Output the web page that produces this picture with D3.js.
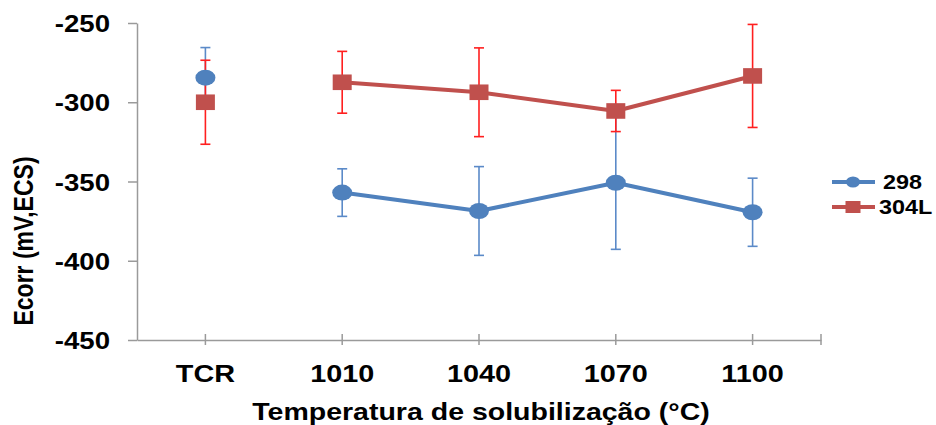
<!DOCTYPE html>
<html>
<head>
<meta charset="utf-8">
<script src="https://cdn.jsdelivr.net/npm/d3@7"></script>
<style>
  body { margin: 0; background: #fff; }
  text { font-family: "Liberation Sans", Arial, sans-serif; font-weight: bold; fill: #000; }
</style>
</head>
<body>
<div id="chart"></div>
<script>
var categories = ["TCR", "1010", "1040", "1070", "1100"];
var yTicks = [-450, -400, -350, -300, -250];

// série 298
var s298 = [-284.5, -357, -368.6, -350.8, -369.4];
var e298 = [19, 15, 28, 42, 21.5];
// série 304L
var s304 = [-300, -287.4, -293.7, -305.5, -283.4];
var e304 = [26.5, 19.5, 28, 13, 32.5];

var width = 936, height = 425;
var stretch = 1.2; // texto do original aparece alargado

var svg = d3.select("#chart").append("svg")
    .attr("width", width)
    .attr("height", height);

var x = d3.scaleBand().domain(categories).range([137, 821]).padding(0),
    y = d3.scaleLinear().domain([-450, -250]).range([340, 23]);

function cx(c) { return x(c) + x.bandwidth() / 2; }

var series = [
  { name: "298", vals: s298, errs: e298, color: "#4F81BD", errColor: "#5B8AC8", shape: "circle" },
  { name: "304L", vals: s304, errs: e304, color: "#C0504D", errColor: "#FF1F1F", shape: "square" }
];
series.forEach(function(s) {
  s.data = categories.map(function(c, i) { return { cat: c, v: s.vals[i], e: s.errs[i] }; });
});

// eixo y
var gy = svg.append("g")
    .attr("transform", "translate(137,0)")
    .call(d3.axisLeft(y).tickValues(yTicks).tickSizeInner(9).tickSizeOuter(0).tickFormat(d3.format("d")));
gy.select(".domain").attr("stroke", "#9a9a9a").attr("stroke-width", 1.5);
gy.selectAll(".tick line").attr("stroke", "#9a9a9a").attr("stroke-width", 1.5);
gy.selectAll(".tick text")
    .attr("x", null).attr("dy", null)
    .attr("text-anchor", "end")
    .attr("transform", "translate(-27,8.5) scale(" + stretch + ",1)")
    .style("font-size", "23px")
    .text(function(d) { return d; });

// eixo x
var gx = svg.append("g")
    .attr("transform", "translate(0,340)")
    .call(d3.axisBottom(x).tickSizeOuter(0));
gx.select(".domain").attr("stroke", "#9a9a9a").attr("stroke-width", 1.5);
gx.selectAll(".tick line").attr("y1", -6).attr("y2", 5).attr("stroke", "#9a9a9a").attr("stroke-width", 1.5);
gx.append("line")
    .attr("x1", x.range()[1]).attr("x2", x.range()[1])
    .attr("y1", -6).attr("y2", 5)
    .attr("stroke", "#9a9a9a").attr("stroke-width", 1.5);
gx.selectAll(".tick text")
    .attr("y", null).attr("dy", null)
    .attr("text-anchor", "middle")
    .attr("transform", "translate(0,41.5) scale(" + stretch + ",1)")
    .style("font-size", "24px");

// títulos dos eixos
svg.append("text")
    .attr("text-anchor", "middle")
    .attr("transform", "translate(481,420) scale(1.24,1)")
    .style("font-size", "23px")
    .text("Temperatura de solubilização (°C)");

svg.append("text")
    .attr("text-anchor", "middle")
    .attr("transform", "translate(33,241) scale(" + stretch + ",1) rotate(-90)")
    .style("font-size", "23px")
    .text("Ecorr (mV,ECS)");

// barras de erro
series.forEach(function(s) {
  var g = svg.append("g").attr("stroke", s.errColor).attr("stroke-width", 1.6);
  var eb = g.selectAll("g").data(s.data).enter().append("g");
  eb.append("line")
      .attr("x1", function(d) { return cx(d.cat); })
      .attr("x2", function(d) { return cx(d.cat); })
      .attr("y1", function(d) { return y(d.v + d.e); })
      .attr("y2", function(d) { return y(d.v - d.e); });
  [1, -1].forEach(function(sign) {
    eb.append("line")
        .attr("x1", function(d) { return cx(d.cat) - 5; })
        .attr("x2", function(d) { return cx(d.cat) + 5; })
        .attr("y1", function(d) { return y(d.v + sign * d.e); })
        .attr("y2", function(d) { return y(d.v + sign * d.e); });
  });
});

// linhas (TCR não está ligado)
var line = d3.line()
    .x(function(d) { return cx(d.cat); })
    .y(function(d) { return y(d.v); });

series.forEach(function(s) {
  svg.append("path")
      .datum(s.data.slice(1))
      .attr("fill", "none")
      .attr("stroke", s.color)
      .attr("stroke-width", 4)
      .attr("stroke-linejoin", "round")
      .attr("d", line);
});

// marcadores
series.forEach(function(s) {
  var m = svg.append("g").selectAll("g").data(s.data).enter().append("g")
      .attr("transform", function(d) { return "translate(" + cx(d.cat) + "," + y(d.v) + ")"; });
  if (s.shape === "circle") {
    m.append("ellipse").attr("rx", 10).attr("ry", 8).attr("fill", s.color);
  } else {
    m.append("rect").attr("x", -9.5).attr("y", -7.8).attr("width", 19).attr("height", 15.6).attr("fill", s.color);
  }
});

// legenda
var legend = svg.append("g").selectAll("g").data(series).enter().append("g")
    .attr("transform", function(d, i) { return "translate(0," + (182 + i * 25) + ")"; });
legend.append("line")
    .attr("x1", 832).attr("x2", 875)
    .attr("stroke", function(d) { return d.color; })
    .attr("stroke-width", 4);
legend.each(function(d) {
  var g = d3.select(this).append("g").attr("transform", "translate(853,0)");
  if (d.shape === "circle") {
    g.append("ellipse").attr("rx", 7).attr("ry", 5.5).attr("fill", d.color);
  } else {
    g.append("rect").attr("x", -7.5).attr("y", -6).attr("width", 15).attr("height", 12).attr("fill", d.color);
  }
});
legend.append("text")
    .attr("transform", function(d, i) { return "translate(" + (i === 0 ? 883 : 879) + ",7) scale(" + stretch + ",1)"; })
    .style("font-size", "19.5px")
    .text(function(d) { return d.name; });
</script>
</body>
</html>
